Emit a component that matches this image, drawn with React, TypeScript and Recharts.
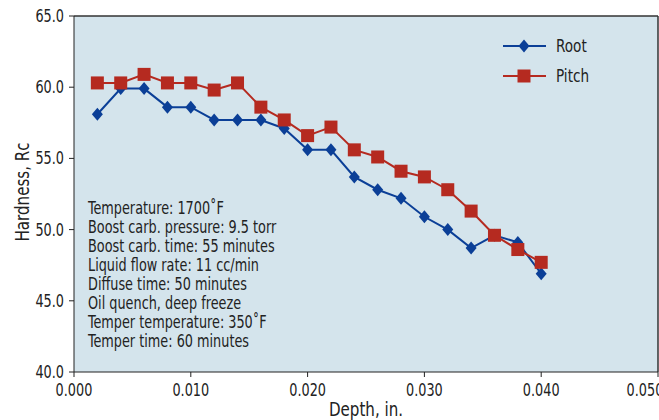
import React from 'react';
import { LineChart, Line, XAxis, YAxis, CartesianGrid, ReferenceLine } from 'recharts';

const depths = [0.002, 0.004, 0.006, 0.008, 0.01, 0.012, 0.014, 0.016, 0.018, 0.02, 0.022, 0.024, 0.026, 0.028, 0.03, 0.032, 0.034, 0.036, 0.038, 0.04];
const rootHardness = [58.1, 59.9, 59.9, 58.6, 58.6, 57.7, 57.7, 57.7, 57.1, 55.6, 55.6, 53.7, 52.8, 52.2, 50.9, 50.0, 48.7, 49.6, 49.1, 46.9];
const pitchHardness = [60.3, 60.3, 60.9, 60.3, 60.3, 59.8, 60.3, 58.6, 57.7, 56.6, 57.2, 55.6, 55.1, 54.1, 53.7, 52.8, 51.3, 49.6, 48.6, 47.7];
const xTicks = [0, 0.01, 0.02, 0.03, 0.04, 0.05];
const yTicks = [40, 45, 50, 55, 60, 65];
const notes = [
  'Temperature: 1700˚F',
  'Boost carb. pressure: 9.5 torr',
  'Boost carb. time: 55 minutes',
  'Liquid flow rate: 11 cc/min',
  'Diffuse time: 50 minutes',
  'Oil quench, deep freeze',
  'Temper temperature: 350˚F',
  'Temper time: 60 minutes',
];

const data = depths.map((depth, i) => ({ depth, root: rootHardness[i], pitch: pitchHardness[i] }));

const BLUE = '#0b3f97';
const RED = '#b52a20';
const INK = '#222';
const FONT = '"Liberation Sans Narrow", "DejaVu Sans Condensed", "Roboto Condensed", "Arial Narrow", sans-serif';
const SQUEEZE = 0.84;

// narrow text, squeezed horizontally around its anchor point
const NarrowText = ({ x, y, anchor = 'start', size = 17, rotate = 0, children }: any) => (
  <text
    transform={`translate(${x},${y}) rotate(${rotate}) scale(${SQUEEZE},1)`}
    textAnchor={anchor}
    fontSize={size}
    fontFamily={FONT}
    fill={INK}
  >
    {children}
  </text>
);

const XTick = (props: any) => {
  const { x, y, payload } = props;
  return <NarrowText x={x} y={y + 15} anchor="middle">{Number(payload.value).toFixed(3)}</NarrowText>;
};

const YTick = (props: any) => {
  const { x, y, payload } = props;
  return <NarrowText x={x} y={y + 6} anchor="end">{Number(payload.value).toFixed(1)}</NarrowText>;
};

const Diamond = (props: any) => {
  const { cx, cy } = props;
  if (cx == null || cy == null) return null;
  return <path d={`M${cx},${cy - 6.5}L${cx + 5.5},${cy}L${cx},${cy + 6.5}L${cx - 5.5},${cy}Z`} fill={BLUE} />;
};

const Square = (props: any) => {
  const { cx, cy } = props;
  if (cx == null || cy == null) return null;
  return <rect x={cx - 6.5} y={cy - 6.5} width={13} height={13} fill={RED} />;
};

export default function App() {
  return (
    <div style={{ position: 'absolute', left: 0, top: 0, width: 659, height: 420, background: '#fff', overflow: 'hidden' }}>
      <LineChart width={659} height={420} data={data} margin={{ top: 16, right: 1, left: 0, bottom: 0 }}>
        <CartesianGrid horizontal={false} vertical={false} fill="#d4e4ec" stroke="none" />
        <XAxis
          type="number"
          dataKey="depth"
          domain={[0, 0.05]}
          ticks={xTicks}
          height={48}
          tickSize={5}
          tickMargin={4}
          stroke={INK}
          tick={<XTick />}
        />
        <YAxis
          type="number"
          domain={[40, 65]}
          ticks={yTicks}
          width={74}
          tickSize={5}
          tickMargin={5}
          stroke={INK}
          tick={<YTick />}
        />
        <ReferenceLine y={65} stroke="#333" strokeWidth={1.5} />
        <ReferenceLine x={0.05} stroke="#333" strokeWidth={1.5} />
        <Line dataKey="root" stroke={BLUE} strokeWidth={2} dot={<Diamond />} activeDot={false} isAnimationActive={false} />
        <Line dataKey="pitch" stroke={RED} strokeWidth={2} dot={<Square />} activeDot={false} isAnimationActive={false} />
      </LineChart>
      <svg style={{ position: 'absolute', left: 0, top: 0 }} width={659} height={420} pointerEvents="none">
        <NarrowText x={366} y={416} anchor="middle" size={20}>Depth, in.</NarrowText>
        <NarrowText x={29} y={192} anchor="middle" size={20} rotate={-90}>Hardness, Rc</NarrowText>
        {notes.map((n, i) => (
          <NarrowText key={n} x={88} y={214 + i * 19} size={17}>{n}</NarrowText>
        ))}
        <line x1={503} y1={46} x2={546} y2={46} stroke={BLUE} strokeWidth={2} />
        <path d="M524,39.5L529.5,46L524,52.5L518.5,46Z" fill={BLUE} />
        <NarrowText x={556} y={52} size={18}>Root</NarrowText>
        <line x1={503} y1={76} x2={546} y2={76} stroke={RED} strokeWidth={2} />
        <rect x={517.5} y={69.5} width={13} height={13} fill={RED} />
        <NarrowText x={556} y={82} size={18}>Pitch</NarrowText>
      </svg>
    </div>
  );
}
